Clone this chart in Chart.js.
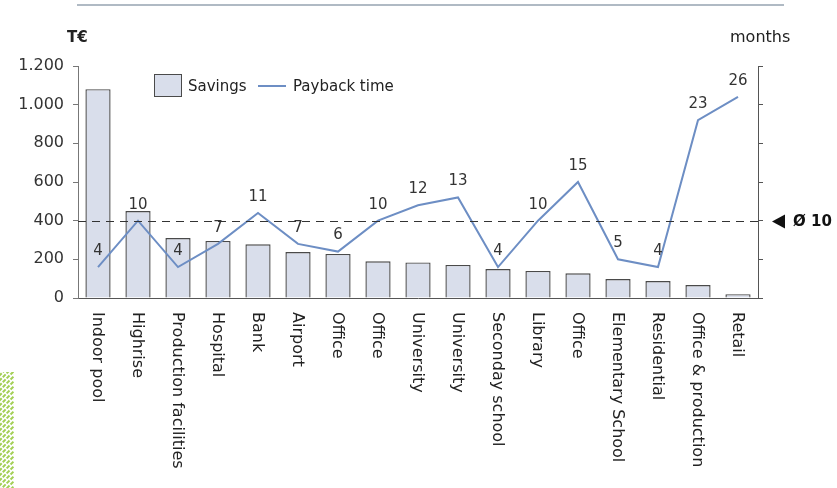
<!DOCTYPE html>
<html>
<head>
<meta charset="utf-8">
<script src="https://cdn.jsdelivr.net/npm/chart.js@4.4.1/dist/chart.umd.min.js"></script>
<style>
html,body{margin:0;padding:0;background:#fff;}
#wrap{width:837px;height:488px;position:relative;}
</style>
</head>
<body>
<div id="wrap"><canvas id="c" width="837" height="488"></canvas></div>
<script>
const categories = ["Indoor pool","Highrise","Production facilities","Hospital","Bank","Airport","Office","Office","University","University","Seconday school","Library","Office","Elementary School","Residential","Office & production","Retail"];
const savings = [1080, 450, 310, 295, 278, 238, 228, 190, 184, 171, 150, 140, 128, 98, 88, 67, 20];
const payback = [4, 10, 4, 7, 11, 7, 6, 10, 12, 13, 4, 10, 15, 5, 4, 23, 26];
const leftTicks = [0, 200, 400, 600, 800, 1000, 1200];
const averagePayback = 10;

const FONT = '"DejaVu Sans", sans-serif';
const BAR_FILL = '#d9deeb';
const BAR_BORDER = '#4a4a4a';
const LINE_COLOR = '#6d8ec4';

const extras = {
  id: 'extras',
  beforeDraw(chart) {
    const ctx = chart.ctx;
    ctx.save();
    // top rule
    ctx.strokeStyle = '#b0bac4';
    ctx.lineWidth = 2;
    ctx.beginPath(); ctx.moveTo(77, 5); ctx.lineTo(784, 5); ctx.stroke();
    // green hatch at bottom left
    ctx.beginPath(); ctx.rect(0, 372, 14, 116); ctx.clip();
    ctx.strokeStyle = '#a3cf55';
    ctx.lineWidth = 2;
    ctx.setLineDash([4, 1.5]);
    for (let k = 360; k < 520; k += 5) {
      ctx.beginPath(); ctx.moveTo(-5, k + 5); ctx.lineTo(20, k - 20); ctx.stroke();
    }
    ctx.restore();
  },
  afterDatasetsDraw(chart) {
    const ctx = chart.ctx;
    const ca = chart.chartArea;
    const y1 = chart.scales.y1;
    const x = chart.scales.x;
    ctx.save();
    // dashed average line
    const ay = Math.round(y1.getPixelForValue(averagePayback)) + 0.5;
    ctx.strokeStyle = '#333';
    ctx.lineWidth = 1.2;
    ctx.setLineDash([8, 6]);
    ctx.beginPath(); ctx.moveTo(ca.left, ay); ctx.lineTo(ca.right, ay); ctx.stroke();
    ctx.setLineDash([]);
    // triangle + label
    ctx.fillStyle = '#111';
    ctx.beginPath();
    ctx.moveTo(772, ay); ctx.lineTo(785, ay - 7); ctx.lineTo(785, ay + 7); ctx.closePath(); ctx.fill();
    ctx.font = 'bold 15px ' + FONT;
    ctx.textAlign = 'left'; ctx.textBaseline = 'middle';
    ctx.fillText('\u00d8 10', 793, ay + 1);

    // data labels on line
    const meta = chart.getDatasetMeta(0);
    ctx.font = '15px ' + FONT;
    ctx.fillStyle = '#333';
    ctx.textAlign = 'center'; ctx.textBaseline = 'middle';
    meta.data.forEach((pt, i) => {
      ctx.fillText(String(payback[i]), pt.x, pt.y - 16);
    });

    // rotated category labels
    ctx.font = '16px ' + FONT;
    ctx.fillStyle = '#222';
    categories.forEach((lab, i) => {
      const px = x.getPixelForValue(i);
      ctx.save();
      ctx.translate(px - 1, 312);
      ctx.rotate(Math.PI / 2);
      ctx.textAlign = 'left'; ctx.textBaseline = 'middle';
      ctx.fillText(lab, 0, 0);
      ctx.restore();
    });

    // axis titles
    ctx.font = 'bold 15px ' + FONT;
    ctx.fillStyle = '#222';
    ctx.textAlign = 'left';
    ctx.fillText('T\u20ac', 67, 38);
    ctx.font = '16px ' + FONT;
    ctx.fillText('months', 730, 38);

    // legend
    ctx.fillStyle = BAR_FILL;
    ctx.fillRect(154, 74, 28, 23);
    ctx.strokeStyle = BAR_BORDER; ctx.lineWidth = 1;
    ctx.strokeRect(154.5, 74.5, 27, 22);
    ctx.fillStyle = '#222';
    ctx.font = '15px ' + FONT;
    ctx.fillText('Savings', 188, 87);
    ctx.strokeStyle = LINE_COLOR; ctx.lineWidth = 2;
    ctx.beginPath(); ctx.moveTo(258, 86); ctx.lineTo(286, 86); ctx.stroke();
    ctx.fillText('Payback time', 293, 87);
    ctx.restore();
  }
};

new Chart(document.getElementById('c'), {
  data: {
    labels: categories,
    datasets: [
      {
        type: 'line',
        label: 'Payback time',
        data: payback,
        yAxisID: 'y1',
        borderColor: LINE_COLOR,
        borderWidth: 2,
        pointRadius: 0,
        tension: 0,
        order: 0
      },
      {
        type: 'bar',
        label: 'Savings',
        data: savings,
        yAxisID: 'y',
        backgroundColor: BAR_FILL,
        borderColor: BAR_BORDER,
        borderWidth: 1.4,
        categoryPercentage: 1,
        barPercentage: 0.63,
        order: 1
      }
    ]
  },
  options: {
    responsive: false,
    animation: false,
    layout: { padding: { top: 66, left: 0, right: 0, bottom: 0 } },
    plugins: { legend: { display: false }, tooltip: { enabled: false } },
    scales: {
      x: {
        type: 'category',
        grid: { display: false },
        border: { display: true, color: '#555', width: 1 },
        ticks: { display: false },
        afterFit: s => { s.height = 190; }
      },
      y: {
        position: 'left',
        min: 0, max: 1200,
        afterBuildTicks: s => { s.ticks = leftTicks.map(v => ({ value: v })); },
        ticks: {
          color: '#333',
          font: { family: FONT, size: 16 },
          padding: 9,
          callback: v => v >= 1000 ? Math.floor(v / 1000) + '.' + String(v % 1000).padStart(3, '0') : String(v)
        },
        grid: { drawOnChartArea: false, drawTicks: true, tickLength: 5, color: '#777' },
        border: { display: true, color: '#777', width: 1 },
        afterFit: s => { s.width = 78; }
      },
      y1: {
        position: 'right',
        min: 0, max: 30,
        ticks: { display: false, stepSize: 5 },
        grid: { drawOnChartArea: false, drawTicks: true, tickLength: 5, color: '#555' },
        border: { display: true, color: '#555', width: 1 },
        afterFit: s => { s.width = 79; }
      }
    }
  },
  plugins: [extras]
});
</script>
</body>
</html>
